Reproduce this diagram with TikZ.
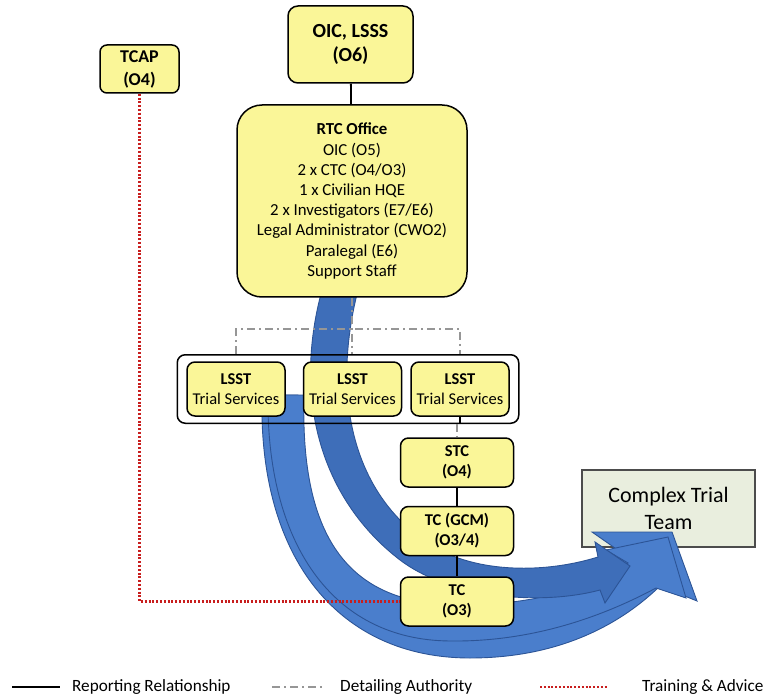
\documentclass[tikz,border=0pt]{standalone}
\usepackage{fontspec}
\setmainfont{Carlito}
\usetikzlibrary{positioning,fit}

\definecolor{boxyellow}{RGB}{250,246,152}
\definecolor{teamgrey}{RGB}{233,238,222}
\definecolor{arrowblue}{RGB}{74,126,204}
\definecolor{arrowdark}{RGB}{62,110,185}
\definecolor{arrowedge}{RGB}{44,84,150}
\definecolor{advicered}{RGB}{200,30,30}
\definecolor{detailgrey}{RGB}{150,150,150}

\begin{document}
\begin{tikzpicture}[
    x=1pt, y=-1pt,
    box/.style={draw, fill=boxyellow, rounded corners=8pt, line width=1.5pt, align=center, inner sep=0pt},
    lsstbox/.style={box, minimum width=98pt, minimum height=54pt, font=\fontsize{16.5}{20}\selectfont},
    trialbox/.style={box, minimum width=113pt, minimum height=49pt, font=\fontsize{16.5}{20}\selectfont\bfseries},
    teambox/.style={draw=black!70, fill=teamgrey, line width=1.2pt, align=center, minimum width=173pt, minimum height=77pt, font=\fontsize{22}{27}\selectfont},
    legend/.style={anchor=west, inner sep=0pt, font=\fontsize{17.2}{18}\selectfont},
    report/.style={line width=1.8pt},
    detail/.style={detailgrey, line width=1.5pt, dash pattern=on 8pt off 4pt on 2pt off 4pt},
    advice/.style={advicered, line width=2.4pt, dash pattern=on 2pt off 1.8pt},
    flowarrow/.style={fill=arrowblue, draw=arrowedge, line width=0.9pt}
]
\useasboundingbox (0,0) rectangle (765,700);

% target box first, the arrow heads lie over it
\node[teambox] (team) at (668.5,508.5) {Complex Trial\\Team};

% blue flow arrows (behind the yellow boxes)
\filldraw[flowarrow] (262,395) .. controls (258,560) and (340,658) .. (470,658)
    .. controls (565,658) and (625,620) .. (660,586) -- (697,601) -- (672,532) -- (592,532) -- (622,553)
    .. controls (590,600) and (540,630) .. (470,630) .. controls (360,630) and (298,560) .. (298,395) -- cycle;
\filldraw[flowarrow] (268,395) .. controls (266,540) and (330,640) .. (450,641)
    .. controls (530,642) and (600,618) .. (656,588) -- (686,598) -- (668,537) -- (606,550) -- (628,563)
    .. controls (580,594) and (520,605) .. (460,605) .. controls (350,605) and (300,540) .. (304,395) -- cycle;
\filldraw[flowarrow, fill=arrowdark] (322,290) .. controls (292,400) and (322,500) .. (400,560)
    .. controls (450,598) and (540,606) .. (600,590) -- (605,603) -- (630,566) -- (595,542) -- (598,557)
    .. controls (540,575) and (470,572) .. (428,543) .. controls (355,495) and (330,400) .. (358,290) -- cycle;

% boxes
\node[box, minimum width=125pt, minimum height=77pt, rounded corners=10pt, font=\fontsize{20}{24}\selectfont\bfseries] (oic) at (350.5,44.5) {OIC, LSSS\\(O6)};
\node[box, minimum width=79pt, minimum height=48pt, rounded corners=7pt, font=\fontsize{18}{23}\selectfont\bfseries] (tcap) at (139.5,69) {TCAP\\(O4)};
\node[box, minimum width=230pt, minimum height=192pt, rounded corners=25pt, font=\fontsize{16.8}{20.2}\selectfont] (rtc) at (352,201)
    {\textbf{RTC Office}\\OIC (O5)\\2 x CTC (O4/O3)\\1 x Civilian HQE\\2 x Investigators (E7/E6)\\Legal Administrator (CWO2)\\Paralegal (E6)\\Support Staff};

\node[lsstbox] (lsst1) at (236,389) {\textbf{LSST}\\Trial Services};
\node[lsstbox, right=17pt of lsst1] (lsst2) {\textbf{LSST}\\Trial Services};
\node[lsstbox, right=8pt of lsst2] (lsst3) {\textbf{LSST}\\Trial Services};
\node[draw, line width=1.5pt, rounded corners=8pt, inner xsep=9pt, inner ysep=6.5pt, fit=(lsst1)(lsst3)] (lsstgroup) {};

\node[trialbox] (stc) at (457,462.5) {STC\\(O4)};
\node[trialbox, below=18pt of stc] (tcgcm) {TC (GCM)\\(O3/4)};
\node[trialbox, below=20pt of tcgcm] (tc) {TC\\(O3)};

% reporting lines
\draw[report] (oic) -- (rtc);
\draw[report] (lsst3.south) -- (lsst3.south |- lsstgroup.south);
\draw[report] (stc) -- (tcgcm);
\draw[report] (tcgcm) -- (tc);

% detailing authority
\draw[detail] (rtc.south) -- (rtc.south |- lsstgroup.north);
\draw[detail] (lsstgroup.north -| lsst1) -- ++(0,-25) -| (lsstgroup.north -| lsst3);
\draw[detail] (stc.north |- lsstgroup.south) -- (stc.north);

% training & advice
\draw[advice] (tcap.south) |- (tc.west);

% legend
\coordinate (repa) at (12,687);
\coordinate (repb) at (60,687);
\draw[report] (repa) -- (repb);
\node[legend, right=12pt of repb] (replabel) {Reporting Relationship};
\coordinate (deta) at (272,687);
\coordinate (detb) at (325,687);
\draw[detail, line width=1.2pt] (deta) -- (detb);
\node[legend, right=15pt of detb] (detlabel) {Detailing Authority};
\coordinate (adva) at (540,687);
\coordinate (advb) at (607,687);
\draw[advice, line width=2pt] (adva) -- (advb);
\node[legend, right=35pt of advb] (advlabel) {Training \& Advice};
\end{tikzpicture}
\end{document}
